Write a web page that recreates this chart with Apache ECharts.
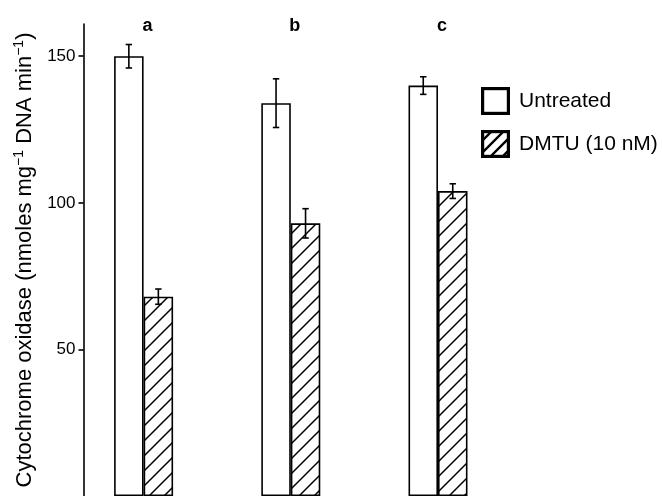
<!DOCTYPE html>
<html>
<head>
<meta charset="utf-8">
<script src="https://cdn.jsdelivr.net/npm/echarts@6/dist/echarts.min.js"></script>
<style>
  html, body { margin: 0; padding: 0; background: #fff; }
  #chart { width: 662px; height: 496px; }
</style>
</head>
<body>
<div id="chart"></div>
<script>
// Experimental groups and cytochrome oxidase activity
const groups = ['a', 'b', 'c'];
const untreated = [150, 134, 140];
const untreatedErr = [4, 8.3, 3];
const dmtu = [68, 93, 104];
const dmtuErr = [2.6, 5, 2.5];
const yTicks = [50, 100, 150];

const FONT = '"Liberation Sans", Arial, Helvetica, sans-serif';
const BAR_WIDTH = 29.5;

// Diagonal hatch tile for the DMTU bars
function hatchPattern() {
  const s = 15;
  const c = document.createElement('canvas');
  c.width = s; c.height = s;
  const g = c.getContext('2d');
  g.fillStyle = '#fff';
  g.fillRect(0, 0, s, s);
  g.strokeStyle = '#000';
  g.lineWidth = 1.5;
  g.beginPath();
  g.moveTo(0, s); g.lineTo(s, 0);
  g.moveTo(-2, 2); g.lineTo(2, -2);
  g.moveTo(s - 2, s + 2); g.lineTo(s + 2, s - 2);
  g.stroke();
  return { image: c, repeat: 'repeat' };
}
const hatch = hatchPattern();

// Legend key swatch: heavy frame, optionally hatched
function swatch(w, h, hatched) {
  const c = document.createElement('canvas');
  c.width = w; c.height = h;
  const g = c.getContext('2d');
  g.fillStyle = '#fff';
  g.fillRect(0, 0, w, h);
  g.strokeStyle = '#000';
  if (hatched) {
    g.save();
    g.beginPath();
    g.rect(0, 0, w, h);
    g.clip();
    g.lineWidth = 2.4;
    g.beginPath();
    for (let k = -2; k <= 3; k++) {
      const o = k * 12 - 4;
      g.moveTo(o, h);
      g.lineTo(o + h, 0);
    }
    g.stroke();
    g.restore();
  }
  g.lineWidth = 3.2;
  g.strokeRect(1.6, 1.6, w - 3.2, h - 3.2);
  return 'image://' + c.toDataURL();
}

function errorSeries(values, errs, shift) {
  return {
    type: 'custom',
    z: 5,
    silent: true,
    data: values.map((v, i) => [i, v, errs[i]]),
    encode: { x: 0, y: 1 },
    renderItem: function (params, api) {
      const i = api.value(0), v = api.value(1), e = api.value(2);
      const hi = api.coord([i, v + e]);
      const lo = api.coord([i, v - e]);
      const x = hi[0] + shift;
      const cap = 3.2;
      const style = { stroke: '#000', lineWidth: 1.6 };
      return {
        type: 'group',
        children: [
          { type: 'line', shape: { x1: x, y1: hi[1], x2: x, y2: lo[1] }, style },
          { type: 'line', shape: { x1: x - cap, y1: hi[1], x2: x + cap, y2: hi[1] }, style },
          { type: 'line', shape: { x1: x - cap, y1: lo[1], x2: x + cap, y2: lo[1] }, style }
        ]
      };
    }
  };
}

const chart = echarts.init(document.getElementById('chart'), null, { renderer: 'canvas' });

chart.setOption({
  animation: false,
  backgroundColor: '#fff',
  textStyle: { fontFamily: FONT, color: '#000' },
  grid: { left: 70, right: 150.4, top: 24, bottom: -3.5 },
  legend: {
    orient: 'vertical',
    left: 481,
    top: 87,
    padding: 0,
    itemWidth: 29,
    itemHeight: 28,
    itemGap: 15,
    symbolKeepAspect: false,
    selectedMode: false,
    textStyle: { fontFamily: FONT, fontSize: 21, color: '#000', padding: [5, 0, 0, 4] },
    data: [
      { name: 'Untreated', icon: swatch(29, 28, false) },
      { name: 'DMTU (10 nM)', icon: swatch(29, 28, true) }
    ]
  },
  xAxis: {
    type: 'category',
    position: 'top',
    data: groups,
    axisLine: { show: false },
    axisTick: { show: false },
    axisLabel: {
      fontFamily: FONT,
      fontSize: 18,
      fontWeight: 'bold',
      color: '#000',
      verticalAlign: 'middle',
      margin: -2,
      padding: [0, 0, 0, 8]
    },
    splitLine: { show: false }
  },
  yAxis: {
    type: 'value',
    min: 0,
    max: 161,
    interval: 50,
    offset: -13.5,
    name: '{n|Cytochrome oxidase (nmoles mg}{s|−1}{n| DNA min}{s|−1}{n|)}',
    nameLocation: 'middle',
    nameRotate: 90,
    nameGap: 45,
    nameTextStyle: {
      rich: {
        n: { fontFamily: FONT, fontSize: 22, color: '#000', lineHeight: 26 },
        s: { fontFamily: FONT, fontSize: 14, color: '#000', lineHeight: 26, verticalAlign: 'top', padding: [0, 0, 8, 0] }
      }
    },
    axisLine: { show: true, lineStyle: { color: '#000', width: 1.6 } },
    axisTick: { show: true, length: 5, lineStyle: { color: '#000', width: 1.6 }, customValues: yTicks },
    axisLabel: { fontFamily: FONT, fontSize: 17, color: '#000', margin: 8, customValues: yTicks },
    splitLine: { show: false }
  },
  series: [
    {
      name: 'Untreated',
      type: 'bar',
      barWidth: BAR_WIDTH,
      barGap: '0%',
      data: untreated,
      itemStyle: { color: '#fff', borderColor: '#000', borderWidth: 1.6 }
    },
    {
      name: 'DMTU (10 nM)',
      type: 'bar',
      barWidth: BAR_WIDTH,
      barGap: '0%',
      data: dmtu,
      itemStyle: { color: hatch, borderColor: '#000', borderWidth: 1.6 }
    },
    errorSeries(untreated, untreatedErr, -BAR_WIDTH / 2),
    errorSeries(dmtu, dmtuErr, BAR_WIDTH / 2)
  ]
});
</script>
</body>
</html>
